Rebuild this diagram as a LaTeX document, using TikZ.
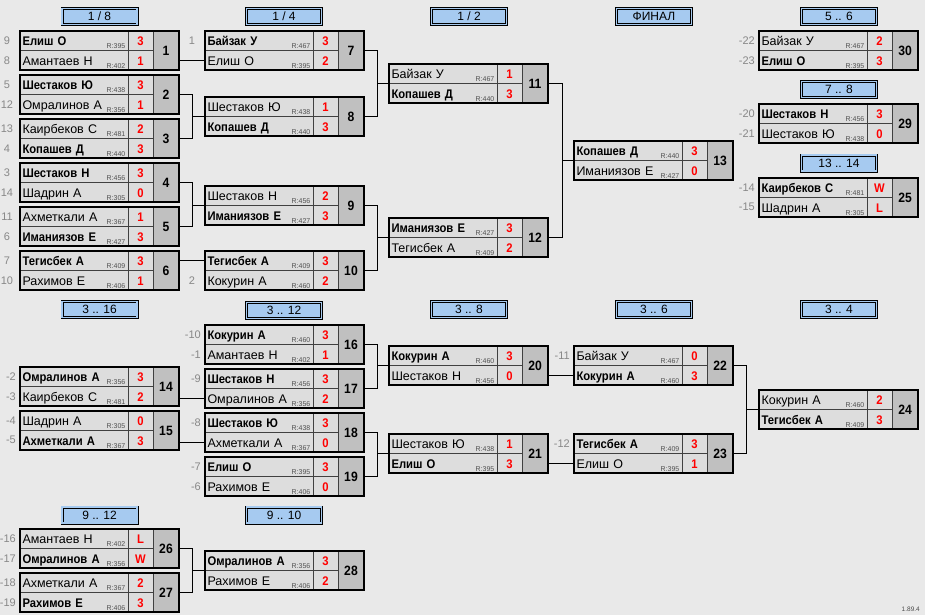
\documentclass[tikz,border=0pt]{standalone}
\usepackage{fontspec}
\setmainfont{Liberation Sans}[BoldFeatures={FakeStretch=0.9}]
\usetikzlibrary{positioning,fit}
\definecolor{bgpage}{RGB}{233,233,233}
\definecolor{cellgray}{RGB}{221,221,221}
\definecolor{numgray}{RGB}{192,192,192}
\definecolor{hdrblue}{RGB}{166,202,240}
\definecolor{scorered}{RGB}{255,0,0}
\definecolor{seedgray}{RGB}{136,136,136}
\definecolor{ratgray}{RGB}{80,80,80}
\tikzset{
  namecell/.style={
    rectangle, draw=black!75, line width=0.7pt, fill=cellgray, outer sep=0pt,
    text width=103pt, align=left, inner xsep=2.5pt, inner ysep=0pt,
    minimum height=19.5pt, text height=12.5pt, text depth=2.5pt,
    font=\fontsize{12.5}{14}\selectfont
  },
  scorecell/.style={
    rectangle, draw=black!75, line width=0.7pt, fill=cellgray, outer sep=0pt,
    minimum width=25pt, minimum height=19.5pt, inner sep=0pt,
    text height=12.5pt, text depth=2.5pt, text=scorered,
    font=\fontsize{12.5}{14}\selectfont\bfseries
  },
  numcell/.style={
    rectangle, draw=black!75, line width=0.7pt, fill=numgray, outer sep=0pt,
    minimum width=26pt, minimum height=39pt, inner sep=0pt,
    font=\fontsize{13.5}{15}\selectfont\bfseries
  },
  outerbox/.style={draw=black, line width=2.4pt, inner sep=0pt, outer sep=0pt},
  rating/.style={inner sep=0pt, text=ratgray, font=\fontsize{7}{8}\selectfont},
  hdr/.style={
    rectangle, draw=black, line width=0.7pt, double=hdrblue, double distance=1.6pt,
    fill=hdrblue, minimum width=75pt, minimum height=16pt, inner sep=0pt,
    font=\fontsize{12}{14}\selectfont
  },
  seed/.style={inner sep=0pt, text=seedgray, font=\fontsize{11}{13}\selectfont},
  link/.style={draw=black, line width=0.8pt}
}
% one match: id, top-left, name/rating/score of both players, winner (1 or 2)
\newcommand{\match}[9]{%
  \node[namecell, anchor=north west] (m#1a) at (#2) {\ifnum#9=1\relax\bfseries\fi #3};
  \node[scorecell, right=0pt of m#1a] (m#1as) {#5};
  \node[namecell, below=0pt of m#1a] (m#1b) {\ifnum#9=2\relax\bfseries\fi #6};
  \node[scorecell, right=0pt of m#1b] (m#1bs) {#8};
  \node[rating, anchor=south east] (m#1ar) at ([xshift=-2.5pt,yshift=1.5pt]m#1a.south east) {R:#4};
  \node[rating, anchor=south east] (m#1br) at ([xshift=-2.5pt,yshift=1.5pt]m#1b.south east) {R:#7};
  \node[numcell, anchor=north west] (m#1n) at (m#1as.north east) {#1};
  \node[outerbox, fit=(m#1a)(m#1n)] (m#1) {};
}

\begin{document}
\begin{tikzpicture}[x=1pt, y=-1pt]
  \path[use as bounding box, fill=bgpage] (0,0) rectangle (925,615);

  % round headers
  \node[hdr] (h18)   at (99.5,16.5)  {1 / 8};
  \node[hdr] (h14)   at (284,16.5)   {1 / 4};
  \node[hdr] (h12)   at (469,16.5)   {1 / 2};
  \node[hdr] (hfin)  at (654,16.5)   {ФИНАЛ};
  \node[hdr] (h56)   at (839,16.5)   {5 .. 6};
  \node[hdr] (h78)   at (839,89.5)   {7 .. 8};
  \node[hdr] (h1314) at (839,163)    {13 .. 14};
  \node[hdr] (h316)  at (99.5,309.5) {3 .. 16};
  \node[hdr] (h312)  at (284,310.5)  {3 .. 12};
  \node[hdr] (h38)   at (469,309.5)  {3 .. 8};
  \node[hdr] (h36)   at (654,309.5)  {3 .. 6};
  \node[hdr] (h34)   at (839,309.5)  {3 .. 4};
  \node[hdr] (h912)  at (99.5,515)   {9 .. 12};
  \node[hdr] (h910)  at (284,515)    {9 .. 10};

  % main draw
  \match{1}{20,31}{Елиш О}{395}{3}{Амантаев Н}{402}{1}{1}
  \match{2}{20,75}{Шестаков Ю}{438}{3}{Омралинов А}{356}{1}{1}
  \match{3}{20,119}{Каирбеков С}{481}{2}{Копашев Д}{440}{3}{2}
  \match{4}{20,163}{Шестаков Н}{456}{3}{Шадрин А}{305}{0}{1}
  \match{5}{20,207}{Ахметкали А}{367}{1}{Иманиязов Е}{427}{3}{2}
  \match{6}{20,251}{Тегисбек А}{409}{3}{Рахимов Е}{406}{1}{1}
  \match{7}{205,31}{Байзак У}{467}{3}{Елиш О}{395}{2}{1}
  \match{8}{205,97}{Шестаков Ю}{438}{1}{Копашев Д}{440}{3}{2}
  \match{9}{205,186}{Шестаков Н}{456}{2}{Иманиязов Е}{427}{3}{2}
  \match{10}{205,251}{Тегисбек А}{409}{3}{Кокурин А}{460}{2}{1}
  \match{11}{389,64}{Байзак У}{467}{1}{Копашев Д}{440}{3}{2}
  \match{12}{389,218}{Иманиязов Е}{427}{3}{Тегисбек А}{409}{2}{1}
  \match{13}{574,141}{Копашев Д}{440}{3}{Иманиязов Е}{427}{0}{1}
  \match{30}{759,31}{Байзак У}{467}{2}{Елиш О}{395}{3}{2}
  \match{29}{759,104}{Шестаков Н}{456}{3}{Шестаков Ю}{438}{0}{1}
  \match{25}{759,178}{Каирбеков С}{481}{W}{Шадрин А}{305}{L}{1}

  % places 3 .. 16
  \match{14}{20,367}{Омралинов А}{356}{3}{Каирбеков С}{481}{2}{1}
  \match{15}{20,411}{Шадрин А}{305}{0}{Ахметкали А}{367}{3}{2}
  \match{16}{205,325}{Кокурин А}{460}{3}{Амантаев Н}{402}{1}{1}
  \match{17}{205,369}{Шестаков Н}{456}{3}{Омралинов А}{356}{2}{1}
  \match{18}{205,413}{Шестаков Ю}{438}{3}{Ахметкали А}{367}{0}{1}
  \match{19}{205,457}{Елиш О}{395}{3}{Рахимов Е}{406}{0}{1}
  \match{20}{389,346}{Кокурин А}{460}{3}{Шестаков Н}{456}{0}{1}
  \match{21}{389,434}{Шестаков Ю}{438}{1}{Елиш О}{395}{3}{2}
  \match{22}{574,346}{Байзак У}{467}{0}{Кокурин А}{460}{3}{2}
  \match{23}{574,434}{Тегисбек А}{409}{3}{Елиш О}{395}{1}{1}
  \match{24}{759,390}{Кокурин А}{460}{2}{Тегисбек А}{409}{3}{2}
  \match{26}{20,529}{Амантаев Н}{402}{L}{Омралинов А}{356}{W}{2}
  \match{27}{20,573}{Ахметкали А}{367}{2}{Рахимов Е}{406}{3}{2}
  \match{28}{205,551}{Омралинов А}{356}{3}{Рахимов Е}{406}{2}{1}

  % seeds and loser references
  \foreach \m/\t in {1a/9, 1b/8, 2a/5, 2b/12, 3a/13, 3b/4, 4a/3, 4b/14,
                     5a/11, 5b/6, 6a/7, 6b/10, 7a/1, 10b/2}
    \node[seed] (l\m) at ([xshift=-13pt]m\m.west) {\t};
  \foreach \m/\t in {30a/-22, 30b/-23, 29a/-20, 29b/-21, 25a/-14, 25b/-15,
                     14a/-2, 14b/-3, 15a/-4, 15b/-5, 16a/-10, 16b/-1, 17a/-9,
                     18a/-8, 19a/-7, 19b/-6, 22a/-11, 23a/-12,
                     26a/-16, 26b/-17, 27a/-18, 27b/-19}
    \node[seed, anchor=east] (l\m) at ([xshift=-4pt]m\m.west) {\t};

  % connectors
  \draw[link] (m7b.west -| m1.east) -- (m7b.west);
  \draw[link] (m2.east) -- ++(13,0) coordinate (j8) |- (m3.east);
  \draw[link] (m8.west) -- (m8.west -| j8);
  \draw[link] (m4.east) -- ++(13,0) coordinate (j9) |- (m5.east);
  \draw[link] (m9.west) -- (m9.west -| j9);
  \draw[link] (m10a.west -| m6.east) -- (m10a.west);
  \draw[link] (m7.east) -- ++(13,0) coordinate (j11) |- (m8.east);
  \draw[link] (m11.west) -- (m11.west -| j11);
  \draw[link] (m9.east) -- ++(13,0) coordinate (j12) |- (m10.east);
  \draw[link] (m12.west) -- (m12.west -| j12);
  \draw[link] (m11.east) -- ++(14,0) coordinate (j13) |- (m12.east);
  \draw[link] (m13.west) -- (m13.west -| j13);

  \draw[link] (m17b.west -| m14.east) -- (m17b.west);
  \draw[link] (m18b.west -| m15.east) -- (m18b.west);
  \draw[link] (m16.east) -- ++(13,0) coordinate (j20) |- (m17.east);
  \draw[link] (m20.west) -- (m20.west -| j20);
  \draw[link] (m18.east) -- ++(13,0) coordinate (j21) |- (m19.east);
  \draw[link] (m21.west) -- (m21.west -| j21);
  \draw[link] (m22b.west -| m20.east) -- (m22b.west);
  \draw[link] (m23b.west -| m21.east) -- (m23b.west);
  \draw[link] (m22.east) -- ++(13,0) coordinate (j24) |- (m23.east);
  \draw[link] (m24.west) -- (m24.west -| j24);
  \draw[link] (m26.east) -- ++(13,0) coordinate (j28) |- (m27.east);
  \draw[link] (m28.west) -- (m28.west -| j28);

  \node[inner sep=0pt, text=black!70, font=\fontsize{6.5}{7}\selectfont, anchor=east]
    (ver) at (920,609) {1.89.4};
\end{tikzpicture}
\end{document}
